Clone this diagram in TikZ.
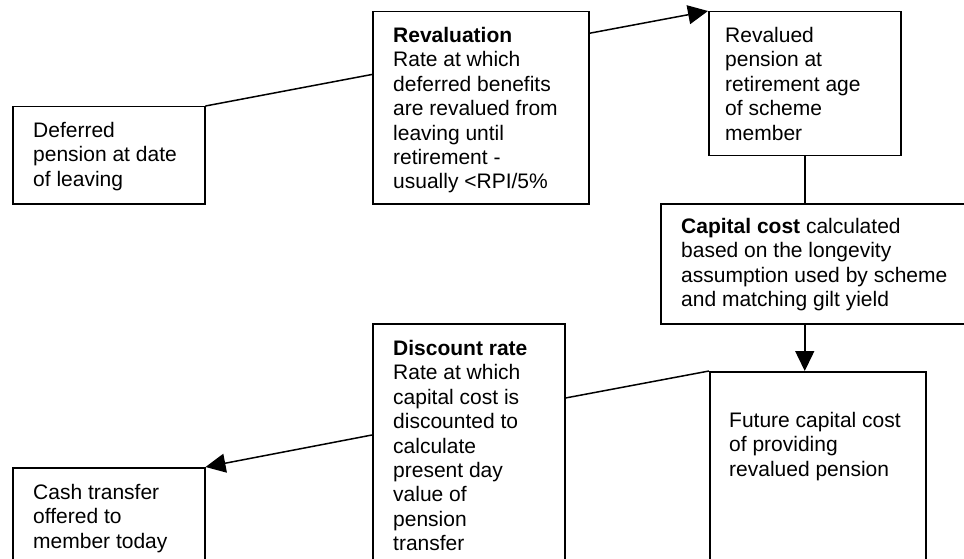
\documentclass[tikz,border=0pt]{standalone}
\usepackage{fontspec}
\setmainfont{Liberation Sans}
\usetikzlibrary{arrows.meta,calc}
\begin{document}
\begin{tikzpicture}[x=1pt,y=-1pt,
  box/.style={draw, line width=1.5pt, rectangle, anchor=north west, inner sep=0pt},
  txt/.style={anchor=north west, inner sep=0pt, align=left, font=\fontsize{21}{24.4}\selectfont},
  link/.style={line width=1.5pt},
  arr/.style={line width=1.5pt, -{Triangle[length=20pt,width=19pt]}}]
\useasboundingbox (0,0) rectangle (964,559);
\clip (0,0) rectangle (964,559);
% boxes
\node[box, minimum width=192pt, minimum height=97pt]  (A) at (12,106) {};
\node[box, minimum width=216pt, minimum height=192pt] (B) at (372,11) {};
\node[box, minimum width=192pt, minimum height=144pt] (C) at (708,11) {};
\node[box, minimum width=340pt, minimum height=120pt] (D) at (660,203) {};
\node[box, minimum width=216pt, minimum height=250pt] (E) at (709,371) {};
\node[box, minimum width=192pt, minimum height=300pt] (F) at (372,323) {};
\node[box, minimum width=192pt, minimum height=150pt] (G) at (12,467) {};
% texts
\node[txt] (At) at (33,122) {Deferred\\pension at date\\of leaving};
\node[txt] (Bt) at (393,27) {\textbf{Revaluation}\\Rate at which\\deferred benefits\\are revalued from\\leaving until\\retirement -\\usually <RPI/5\%};
\node[txt] (Ct) at (725,27) {Revalued\\pension at\\retirement age\\of scheme\\member};
\node[txt] (Dt) at (681,218) {\textbf{Capital cost} calculated\\based on the longevity\\assumption used by scheme\\and matching gilt yield};
\node[txt] (Et) at (729,412) {Future capital cost\\of providing\\revalued pension};
\node[txt] (Ft) at (393,340) {\textbf{Discount rate}\\Rate at which\\capital cost is\\discounted to\\calculate\\present day\\value of\\pension\\transfer};
\node[txt] (Gt) at (33,484) {Cash transfer\\offered to\\member today};
% connectors
\draw[link] (A.north east) -- ($(B.north west)!0.328!(B.south west)$);
\draw[arr] ($(B.north east)!0.115!(B.south east)$) -- (C.north west);
\draw[link] (C.south) -- (C.south |- D.north);
\draw[arr] (C.south |- D.south) -- (C.south |- E.north);
\draw[link] (E.north west) -- ($(F.north east)+(0,75)$);
\draw[arr] ($(F.north west)+(0,112)$) -- (G.north east);
\end{tikzpicture}
\end{document}
